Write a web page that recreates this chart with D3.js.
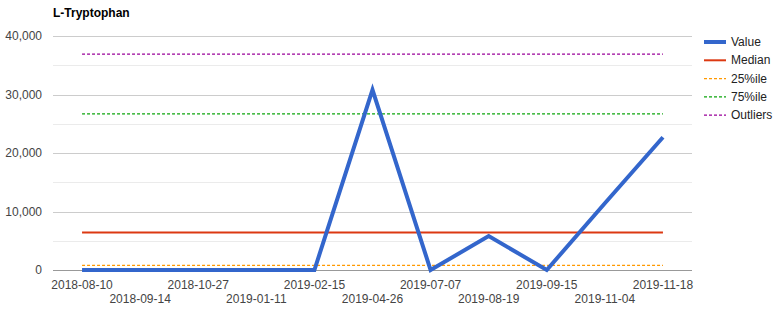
<!DOCTYPE html>
<html>
<head>
<meta charset="utf-8">
<script src="https://cdn.jsdelivr.net/npm/d3@7"></script>
<style>
  body { margin: 0; background: #fff; }
  svg { font-family: Arial, "Liberation Sans", sans-serif; }
</style>
</head>
<body>
<svg id="chart" width="776" height="313"></svg>
<script>
const dates = ["2018-08-10", "2018-09-14", "2018-10-27", "2019-01-11", "2019-02-15", "2019-04-26",
  "2019-07-07", "2019-08-19", "2019-09-15", "2019-11-04", "2019-11-18"];
const values = [0, 0, 0, 0, 0, 30800, 0, 5800, 0, 11400, 22700];
const median = 6400;
const p25 = 800;
const p75 = 26700;
const outliers = 36900;
const yTicks = [0, 10000, 20000, 30000, 40000];
const yMinorTicks = [5000, 15000, 25000, 35000];

const svg = d3.select("#chart");
const plotLeft = 53, plotRight = 692, plotTop = 36, plotBottom = 270;

const x = d3.scalePoint().domain(dates).range([plotLeft, plotRight]).padding(0.5);
const y = d3.scaleLinear().domain([0, 40000]).range([plotBottom, plotTop]);

// title
svg.append("text")
  .attr("x", plotLeft).attr("y", 17)
  .attr("font-size", 12).attr("font-weight", "bold").attr("fill", "#000")
  .text("L-Tryptophan");

// gridlines
svg.append("g").selectAll("line").data(yMinorTicks).join("line")
  .attr("x1", plotLeft).attr("x2", plotRight)
  .attr("y1", d => Math.round(y(d)) + 0.5).attr("y2", d => Math.round(y(d)) + 0.5)
  .attr("stroke", "#ebebeb");
svg.append("g").selectAll("line").data(yTicks.filter(d => d > 0)).join("line")
  .attr("x1", plotLeft).attr("x2", plotRight)
  .attr("y1", d => Math.round(y(d)) + 0.5).attr("y2", d => Math.round(y(d)) + 0.5)
  .attr("stroke", "#cccccc");

// y labels
svg.append("g").selectAll("text").data(yTicks).join("text")
  .attr("x", plotLeft - 11).attr("y", d => y(d) + 4)
  .attr("text-anchor", "end").attr("font-size", 12).attr("fill", "#444")
  .text(d => d3.format(",")(d));

// reference lines
const refs = [
  { name: "Median", value: median, color: "#dc3912", width: 2, dash: null },
  { name: "25%ile", value: p25, color: "#ff9900", width: 1.3, dash: "3,2" },
  { name: "75%ile", value: p75, color: "#0da50d", width: 1.3, dash: "3,2" },
  { name: "Outliers", value: outliers, color: "#990099", width: 1.3, dash: "3,2" }
];
const xFirst = x(dates[0]), xLast = x(dates[dates.length - 1]);
refs.forEach(r => {
  svg.append("line")
    .attr("x1", xFirst).attr("x2", xLast)
    .attr("y1", y(r.value)).attr("y2", y(r.value))
    .attr("stroke", r.color).attr("stroke-width", r.width)
    .attr("stroke-dasharray", r.dash);
});

// baseline
svg.append("line")
  .attr("x1", plotLeft).attr("x2", plotRight)
  .attr("y1", plotBottom + 0.5).attr("y2", plotBottom + 0.5)
  .attr("stroke", "#999");

// value line
const line = d3.line().x((d, i) => x(dates[i])).y(d => y(d));
svg.append("path").datum(values)
  .attr("d", line)
  .attr("fill", "none").attr("stroke", "#3366cc").attr("stroke-width", 4);

// x labels, staggered
svg.append("g").selectAll("text").data(dates).join("text")
  .attr("x", d => x(d))
  .attr("y", (d, i) => i % 2 === 0 ? 289 : 303)
  .attr("text-anchor", "middle").attr("font-size", 12).attr("fill", "#444")
  .text(d => d);

// legend
const legend = [{ name: "Value", color: "#3366cc", width: 4, dash: null }].concat(refs);
const lg = svg.append("g").selectAll("g").data(legend).join("g")
  .attr("transform", (d, i) => `translate(704, ${42 + i * 18.3})`);
lg.append("line")
  .attr("x1", 0).attr("x2", 22).attr("y1", 0).attr("y2", 0)
  .attr("stroke", d => d.color).attr("stroke-width", d => d.width)
  .attr("stroke-dasharray", d => d.dash);
lg.append("text")
  .attr("x", 27).attr("y", 4)
  .attr("font-size", 12).attr("fill", "#222")
  .text(d => d.name);
</script>
</body>
</html>
